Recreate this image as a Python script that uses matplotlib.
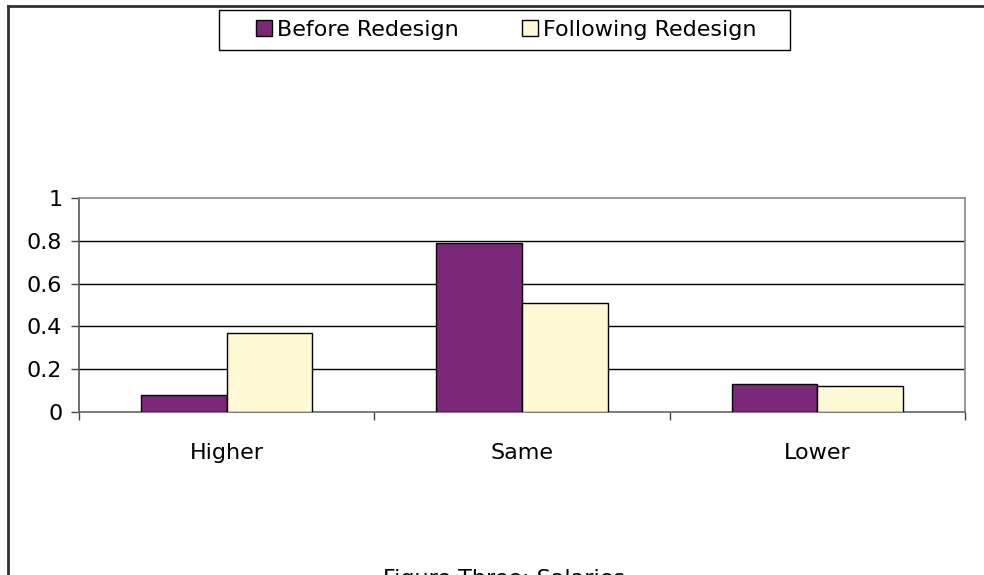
import numpy as np
import matplotlib
matplotlib.use("Agg")
import matplotlib.pyplot as plt
from matplotlib.lines import Line2D
from matplotlib.patches import Patch, Rectangle

# values
categories = ["Higher", "Same", "Lower"]
before_redesign = [0.08, 0.79, 0.13]
following_redesign = [0.37, 0.51, 0.12]
y_ticks = [0, 0.2, 0.4, 0.6, 0.8, 1]
y_tick_labels = ["0", "0.2", "0.4", "0.6", "0.8", "1"]

plt.rcParams['font.family'] = ['DejaVu Sans']
W, H = 984, 575

fig = plt.figure(figsize=(9.84, 5.75), dpi=100)
ax = fig.add_axes([79/W, 1 - 412/H, (965 - 79)/W, (412 - 198)/H])

x = np.arange(len(categories))
width = 0.29
ax.bar(x - width/2, before_redesign, width, color='#7b2878', edgecolor='black', linewidth=1, zorder=3)
ax.bar(x + width/2, following_redesign, width, color='#fff9d6', edgecolor='black', linewidth=1, zorder=3)

ax.set_xlim(-0.5, len(categories) - 0.5)
ax.set_ylim(0, 1)
ax.set_yticks(y_ticks)
ax.set_yticklabels(y_tick_labels, fontsize=16)
for y in y_ticks[1:-1]:
    ax.axhline(y, color='black', linewidth=1, zorder=1)

# category labels between boundary ticks
ax.set_xticks(np.arange(len(categories) + 1) - 0.5)
ax.set_xticklabels([])
for i, c in enumerate(categories):
    ax.text(i, -31/214, c, ha='center', va='top', fontsize=16,
            transform=ax.get_xaxis_transform())

for s in ax.spines.values():
    s.set_color('#888888')
    s.set_linewidth(1.2)
ax.spines['left'].set_color('#555555')
ax.spines['bottom'].set_color('#666666')
ax.tick_params(axis='both', length=6, width=1, color='#444444', pad=6)

# legend box drawn separately so its padding matches
fig.add_artist(Rectangle((219/W, 1 - 50/H), (790 - 219)/W, 40/H, transform=fig.transFigure,
                         facecolor='white', edgecolor='black', linewidth=1, zorder=1))
handles = [Patch(facecolor='#7b2878', edgecolor='black', linewidth=1),
           Patch(facecolor='#fff9d6', edgecolor='black', linewidth=1)]
leg = fig.legend(handles, ["Before Redesign", "Following Redesign"],
                 loc='center', bbox_to_anchor=(506.5/W, 1 - 30/H), ncol=2,
                 fontsize=16, frameon=False,
                 handlelength=0.7, handleheight=0.7, handletextpad=0.25,
                 columnspacing=2.85, borderpad=0.0)
leg.set_zorder(2)

# outer chart border (only top and left visible in the crop)
fig.add_artist(Line2D([8/W, 8/W], [0, 1 - 6/H], transform=fig.transFigure,
                      color='#333333', linewidth=2))
fig.add_artist(Line2D([8/W, 1], [1 - 6/H, 1 - 6/H], transform=fig.transFigure,
                      color='#333333', linewidth=2))

# caption, cut off at the bottom edge as in the original
fig.text(383/W, 1 - 569/H, "Figure Three: Salaries", ha='left', va='top', fontsize=16)

fig.savefig("out.png", dpi=100)
